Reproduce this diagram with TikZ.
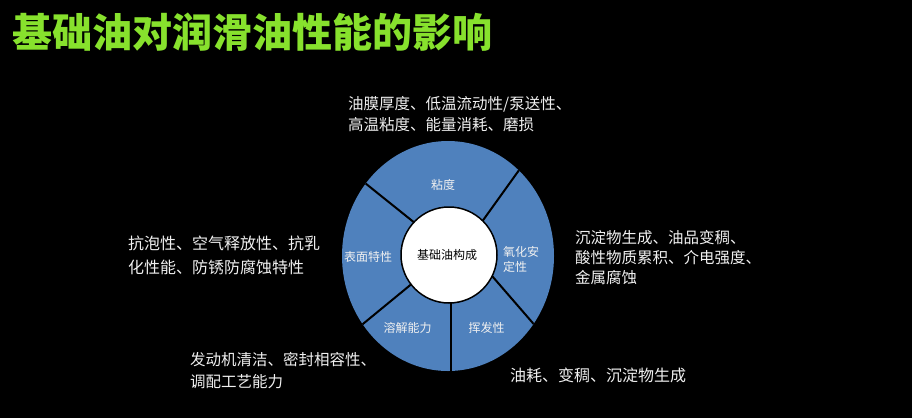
\documentclass[tikz,border=0pt]{standalone}
\usepackage{fontspec}
\usetikzlibrary{shapes.geometric}
\setmainfont{Noto Sans CJK SC}
\definecolor{titlegreen}{RGB}{135,225,45}
\definecolor{secblue}{RGB}{79,129,189}
\definecolor{txt}{RGB}{240,240,240}
\begin{document}
\begin{tikzpicture}[x=1pt,y=-1pt,
  lbl/.style={text=txt, align=left, inner sep=0pt, anchor=west},
  sec/.style={text=txt, font=\fontsize{12}{15}\selectfont, inner sep=0pt},
  divider/.style={line width=2pt, draw=black}]
\useasboundingbox (0,0) rectangle (912,418);
\fill[black] (0,0) rectangle (912,418);
\node[anchor=west, inner sep=0pt, text=titlegreen, font=\bfseries\fontsize{40}{40}\selectfont] (title) at (12,32) {基础油对润滑油性能的影响};
% ring
\node[ellipse, minimum width=212pt, minimum height=230pt, inner sep=0pt, fill=secblue] (ring) at (448,256) {};
\begin{scope}
  \clip (448,256) ellipse [x radius=106, y radius=115];
  \draw[divider] (418,225.5) -- (360,179);
  \draw[divider] (480,224.5) -- (522,166);
  \draw[divider] (486,269) -- (538,329);
  \draw[divider] (414,282) -- (358,328);
  \draw[divider] (450.5,298) -- (450.5,376);
\end{scope}
\node[circle, minimum size=96pt, inner sep=0pt, fill=white, draw=black, line width=1.5pt] (core) at (449,255) {};
\node[inner sep=0pt, text=black, font=\fontsize{12}{15}\selectfont] (coretext) at (447,255) {基础油构成};
% sector labels
\node[sec] (s1) at (443,185) {粘度};
\node[sec] (s2) at (368,257) {表面特性};
\node[sec, anchor=west, align=left] (s3) at (503,259) {氧化安\\定性};
\node[sec] (s4) at (407.5,328) {溶解能力};
\node[sec] (s5) at (486.5,328) {挥发性};
% outer labels
\node[lbl, font=\fontsize{15.5}{21}\selectfont] (l1) at (348,114.5) {油膜厚度、低温流动性/泵送性、\\高温粘度、能量消耗、磨损};
\node[lbl, font=\fontsize{16}{24}\selectfont] (l2) at (128,255) {抗泡性、空气释放性、抗乳\\化性能、防锈防腐蚀特性};
\node[lbl, font=\fontsize{15.5}{20}\selectfont] (l3) at (575,258) {沉淀物生成、油品变稠、\\酸性物质累积、介电强度、\\金属腐蚀};
\node[lbl, font=\fontsize{15.5}{22}\selectfont] (l4) at (190,371) {发动机清洁、密封相容性、\\调配工艺能力};
\node[lbl, font=\fontsize{16}{22}\selectfont] (l5) at (510,375.5) {油耗、变稠、沉淀物生成};
\end{tikzpicture}
\end{document}
